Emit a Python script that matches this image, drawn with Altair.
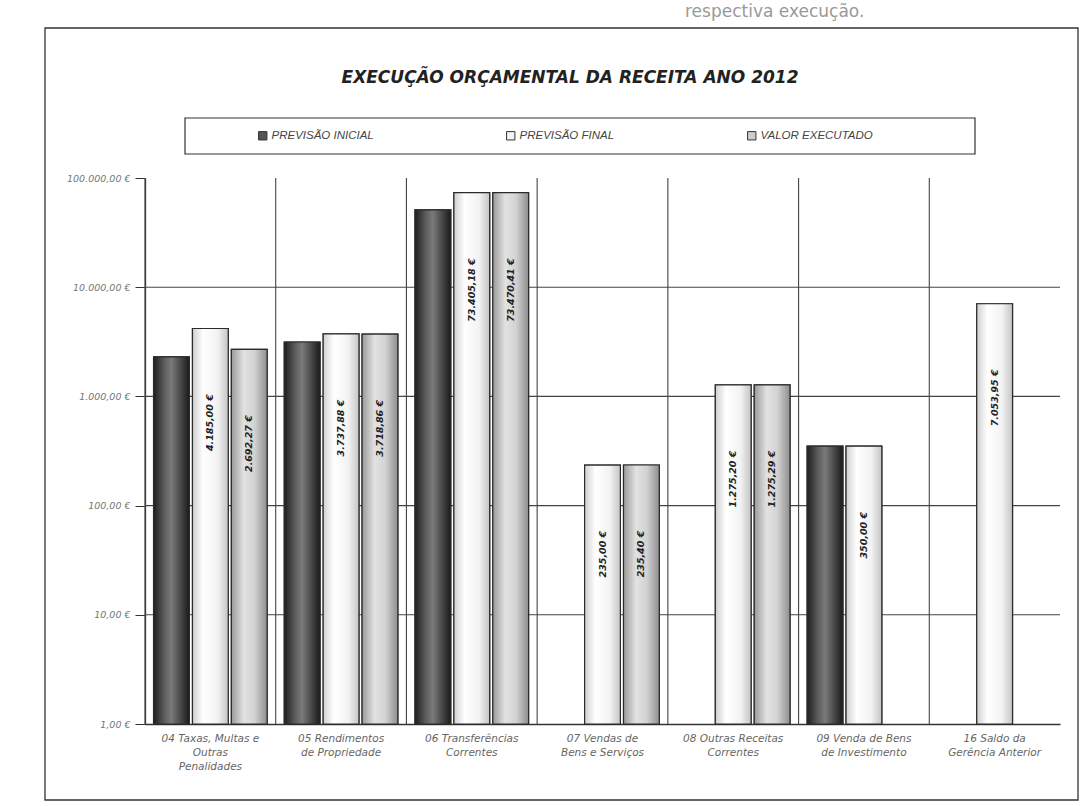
import altair as alt
import pandas as pd

# ---- data -------------------------------------------------------------
TITULO = "EXECUÇÃO ORÇAMENTAL DA RECEITA ANO 2012"
TEXTO_ACIMA = "respectiva execução."
CATEGORIAS = [
    "04 Taxas, Multas e|Outras|Penalidades",
    "05 Rendimentos|de Propriedade",
    "06 Transferências|Correntes",
    "07 Vendas de|Bens e Serviços",
    "08 Outras Receitas|Correntes",
    "09 Venda de Bens|de Investimento",
    "16 Saldo da|Gerência Anterior",
]
SERIES = ["PREVISÃO INICIAL", "PREVISÃO FINAL", "VALOR EXECUTADO"]
PREVISAO_INICIAL = [2300.00, 3150.00, 51000.00, None, None, 350.00, None]
PREVISAO_FINAL = [4185.00, 3737.88, 73405.18, 235.00, 1275.20, 350.00, 7053.95]
VALOR_EXECUTADO = [2692.27, 3718.86, 73470.41, 235.40, 1275.29, None, None]

Y_TICKS = [1, 10, 100, 1000, 10000, 100000]
Y_TICK_LABELS = ["1,00 €", "10,00 €", "100,00 €", "1.000,00 €", "10.000,00 €", "100.000,00 €"]
GRID_VALUES = [10, 100, 1000, 10000]

SERIES_FILL = ["#555555", "#f4f4f4", "#cdcdcd"]


def fmt_eur(v):
    s = f"{v:,.2f}"
    s = s.replace(",", "#").replace(".", ",").replace("#", ".")
    return s + " €"


rows = []
for serie, valores in zip(SERIES, [PREVISAO_INICIAL, PREVISAO_FINAL, VALOR_EXECUTADO]):
    for cat, v in zip(CATEGORIAS, valores):
        if v is None:
            continue
        rows.append({"categoria": cat, "serie": serie, "valor": v, "base": Y_TICKS[0],
                     "rotulo": fmt_eur(v)})
df = pd.DataFrame(rows)

W, H = 915, 546
LABEL_DROP = 4.0  # labels start a fixed log-distance below the bar top

tick_expr = "[" + ",".join(f"'{t}'" for t in Y_TICK_LABELS) + "][round(log(datum.value)/LN10)]"

x_scale = alt.Scale(domain=CATEGORIAS, paddingInner=0, paddingOuter=0)
x_axis = alt.Axis(
    title=None,
    labelExpr="split(datum.label, '|')",
    labelAngle=0,
    ticks=False,
    labelFont="DejaVu Sans",
    labelFontStyle="italic",
    labelFontSize=10.5,
    labelColor="#666666",
    labelPadding=9,
    labelLineHeight=14,
    labelLimit=200,
    domainColor="#333333",
    domainWidth=1.3,
)
y_scale = alt.Scale(type="log", domain=[1, 100000])
y_axis = alt.Axis(
    title=None,
    values=Y_TICKS,
    labelExpr=tick_expr,
    grid=False,
    tickSize=10,
    tickColor="#333333",
    domainColor="#333333",
    domainWidth=1.3,
    labelFont="DejaVu Sans",
    labelFontStyle="italic",
    labelFontSize=9.5,
    labelColor="#777777",
    labelPadding=5,
)


def X(**kw):
    return alt.X("categoria:N", sort=CATEGORIAS, scale=x_scale, axis=x_axis, **kw)


def Y(field="valor"):
    return alt.Y(f"{field}:Q", scale=y_scale, axis=y_axis)


xoff_enc = alt.XOffset(
    "serie:N",
    sort=SERIES,
    scale=alt.Scale(domain=SERIES, paddingInner=0.08, paddingOuter=0.22),
)

one = pd.DataFrame({"k": [0]})

# line of document text above the chart object
texto_acima = alt.Chart(one).mark_text(
    font="DejaVu Sans", fontSize=17, color="#999999", align="left", baseline="middle",
).encode(x=alt.value(540), y=alt.value(-166), text=alt.value(TEXTO_ACIMA))
# outer frame of the chart object
frame = alt.Chart(one).mark_rect(fill=None, stroke="#333333", strokeWidth=1.3).encode(
    x=alt.value(-100), x2=alt.value(W + 18), y=alt.value(-150), y2=alt.value(H + 76)
)
# chart title
title = alt.Chart(one).mark_text(
    font="DejaVu Sans", fontSize=17, fontWeight="bold", fontStyle="italic",
    color="#222222", align="center", baseline="middle",
).encode(x=alt.value(425), y=alt.value(-100), text=alt.value(TITULO))
# legend box
legend_box = alt.Chart(one).mark_rect(fill="white", stroke="#333333", strokeWidth=1.2).encode(
    x=alt.value(40), x2=alt.value(830), y=alt.value(-60), y2=alt.value(-24)
)

# vertical separators between categories
vgrid = alt.Chart(pd.DataFrame({"categoria": CATEGORIAS})).mark_rule(
    color="#444444", strokeWidth=1.1
).encode(x=X(bandPosition=0))

# horizontal gridlines
hgrid = alt.Chart(pd.DataFrame({"valor": GRID_VALUES})).mark_rule(
    color="#444444", strokeWidth=1.1
).encode(y=Y())

bars_base = alt.Chart(df).mark_bar(stroke="#2b2b2b", strokeWidth=1.2).encode(
    x=X(),
    xOffset=xoff_enc,
    y=Y(),
    y2="base:Q",
    color=alt.Color(
        "serie:N",
        sort=SERIES,
        scale=alt.Scale(domain=SERIES, range=SERIES_FILL),
        legend=alt.Legend(
            title=None,
            orient="none",
            legendX=112,
            legendY=-48,
            direction="horizontal",
            symbolType="square",
            symbolSize=70,
            symbolStrokeColor="#333333",
            symbolStrokeWidth=1,
            labelFont="Liberation Sans",
            labelFontStyle="italic",
            labelFontSize=11.5,
            labelColor="#444444",
            labelOffset=3,
            columnPadding=130,
            padding=0,
        ),
    ),
)


def gradient(stops):
    return alt.LinearGradient(
        gradient="linear",
        x1=0, x2=1, y1=0, y2=0,
        stops=[alt.GradientStop(color=c, offset=o) for o, c in stops],
    )


GRADIENTS = [
    gradient([(0, "#1e1e1e"), (0.3, "#5c5c5c"), (0.5, "#7a7a7a"), (0.75, "#4a4a4a"), (1, "#1a1a1a")]),
    gradient([(0, "#cfcfcf"), (0.3, "#ffffff"), (0.7, "#f3f3f3"), (1, "#c4c4c4")]),
    gradient([(0, "#9a9a9a"), (0.35, "#e2e2e2"), (0.65, "#d2d2d2"), (1, "#8e8e8e")]),
]

grad_layers = []
for serie, g in zip(SERIES, GRADIENTS):
    grad_layers.append(
        alt.Chart(df)
        .transform_filter(alt.datum.serie == serie)
        .mark_bar(fill=g, stroke="#2b2b2b", strokeWidth=1.2)
        .encode(x=X(), xOffset=xoff_enc, y=Y(), y2="base:Q")
    )

labels = (
    alt.Chart(df)
    .transform_filter(alt.datum.serie != SERIES[0])
    .transform_calculate(pos=f"datum.valor / {LABEL_DROP}")
    .mark_text(
        angle=270,
        align="right",
        baseline="middle",
        font="DejaVu Sans",
        fontSize=9.5,
        fontWeight="bold",
        fontStyle="italic",
        color="#222222",
    )
    .encode(x=X(), xOffset=xoff_enc, y=Y("pos"), text="rotulo:N")
)

chart = (
    alt.layer(texto_acima, frame, title, legend_box, vgrid, hgrid, bars_base, *grad_layers, labels)
    .properties(
        width=W,
        height=H,
        padding={"left": 145, "top": 178, "right": 30, "bottom": 82},
        autosize=alt.AutoSizeParams(type="none"),
        background="white",
    )
    .configure_view(stroke=None)
)

chart.save("out.html", embed_options={"renderer": "svg", "actions": False})
